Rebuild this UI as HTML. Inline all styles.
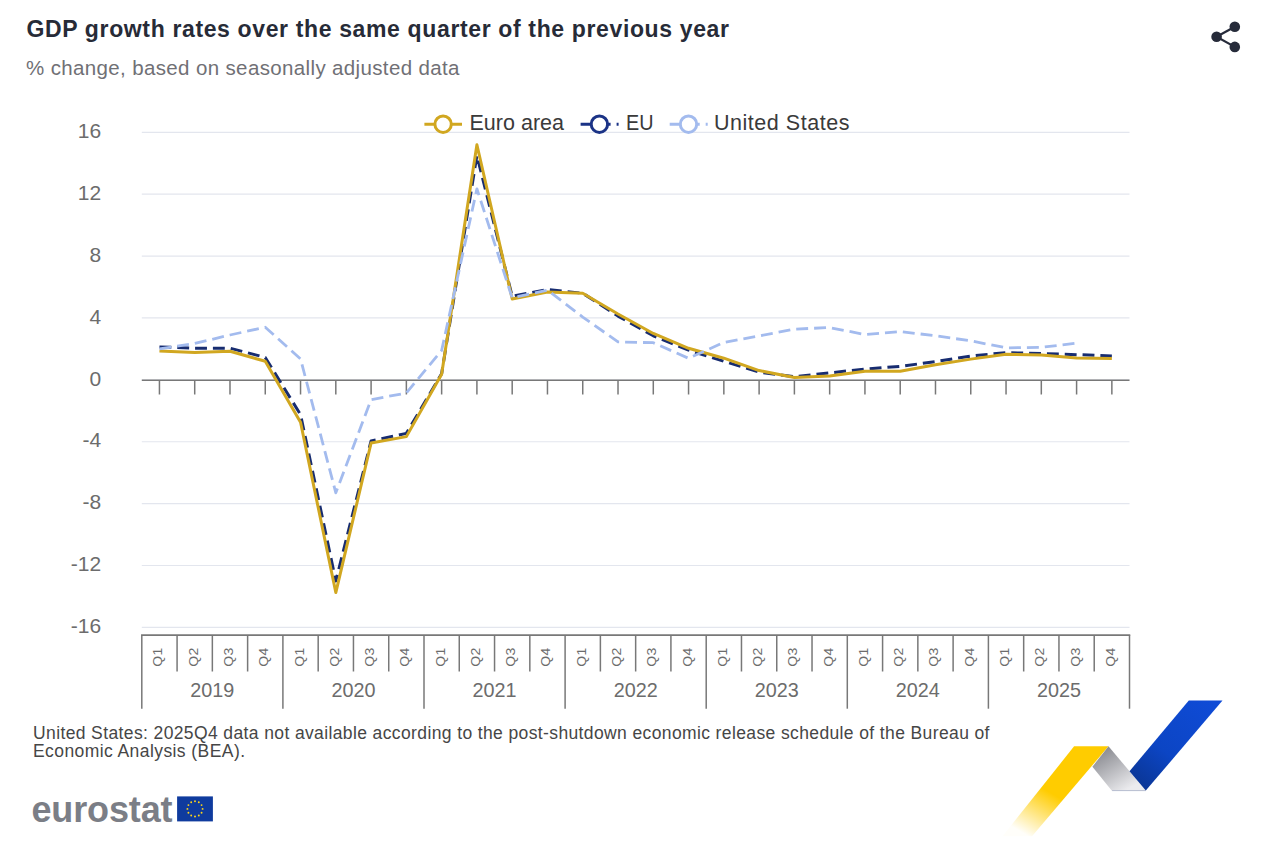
<!DOCTYPE html>
<html><head><meta charset="utf-8">
<style>
html,body{margin:0;padding:0;background:#fff;}
body{width:1279px;height:861px;position:relative;overflow:hidden;font-family:"Liberation Sans",sans-serif;}
svg{position:absolute;left:0;top:0;}
svg text{font-family:"Liberation Sans",sans-serif;}
</style></head><body>
<svg width="1279" height="861" viewBox="0 0 1279 861">
<line x1="141.8" y1="627.37" x2="1129.5" y2="627.37" stroke="#e3e6ee" stroke-width="1.2"/>
<line x1="141.8" y1="565.49" x2="1129.5" y2="565.49" stroke="#e3e6ee" stroke-width="1.2"/>
<line x1="141.8" y1="503.61" x2="1129.5" y2="503.61" stroke="#e3e6ee" stroke-width="1.2"/>
<line x1="141.8" y1="441.73" x2="1129.5" y2="441.73" stroke="#e3e6ee" stroke-width="1.2"/>
<line x1="141.8" y1="379.85" x2="1129.5" y2="379.85" stroke="#e3e6ee" stroke-width="1.2"/>
<line x1="141.8" y1="317.97" x2="1129.5" y2="317.97" stroke="#e3e6ee" stroke-width="1.2"/>
<line x1="141.8" y1="256.09" x2="1129.5" y2="256.09" stroke="#e3e6ee" stroke-width="1.2"/>
<line x1="141.8" y1="194.21" x2="1129.5" y2="194.21" stroke="#e3e6ee" stroke-width="1.2"/>
<line x1="141.8" y1="132.33" x2="1129.5" y2="132.33" stroke="#e3e6ee" stroke-width="1.2"/>
<text x="101.2" y="633.07" text-anchor="end" font-size="21" fill="#6c6c6c">-16</text>
<text x="101.2" y="571.19" text-anchor="end" font-size="21" fill="#6c6c6c">-12</text>
<text x="101.2" y="509.31" text-anchor="end" font-size="21" fill="#6c6c6c">-8</text>
<text x="101.2" y="447.43" text-anchor="end" font-size="21" fill="#6c6c6c">-4</text>
<text x="101.2" y="385.55" text-anchor="end" font-size="21" fill="#6c6c6c">0</text>
<text x="101.2" y="323.67" text-anchor="end" font-size="21" fill="#6c6c6c">4</text>
<text x="101.2" y="261.79" text-anchor="end" font-size="21" fill="#6c6c6c">8</text>
<text x="101.2" y="199.91" text-anchor="end" font-size="21" fill="#6c6c6c">12</text>
<text x="101.2" y="138.03" text-anchor="end" font-size="21" fill="#6c6c6c">16</text>
<line x1="141.8" y1="380.3" x2="1129.5" y2="380.3" stroke="#787878" stroke-width="1.6"/>
<line x1="159.44" y1="380.3" x2="159.44" y2="394.5" stroke="#787878" stroke-width="1.5"/>
<line x1="194.71" y1="380.3" x2="194.71" y2="394.5" stroke="#787878" stroke-width="1.5"/>
<line x1="229.99" y1="380.3" x2="229.99" y2="394.5" stroke="#787878" stroke-width="1.5"/>
<line x1="265.26" y1="380.3" x2="265.26" y2="394.5" stroke="#787878" stroke-width="1.5"/>
<line x1="300.54" y1="380.3" x2="300.54" y2="394.5" stroke="#787878" stroke-width="1.5"/>
<line x1="335.81" y1="380.3" x2="335.81" y2="394.5" stroke="#787878" stroke-width="1.5"/>
<line x1="371.09" y1="380.3" x2="371.09" y2="394.5" stroke="#787878" stroke-width="1.5"/>
<line x1="406.36" y1="380.3" x2="406.36" y2="394.5" stroke="#787878" stroke-width="1.5"/>
<line x1="441.64" y1="380.3" x2="441.64" y2="394.5" stroke="#787878" stroke-width="1.5"/>
<line x1="476.91" y1="380.3" x2="476.91" y2="394.5" stroke="#787878" stroke-width="1.5"/>
<line x1="512.19" y1="380.3" x2="512.19" y2="394.5" stroke="#787878" stroke-width="1.5"/>
<line x1="547.46" y1="380.3" x2="547.46" y2="394.5" stroke="#787878" stroke-width="1.5"/>
<line x1="582.74" y1="380.3" x2="582.74" y2="394.5" stroke="#787878" stroke-width="1.5"/>
<line x1="618.01" y1="380.3" x2="618.01" y2="394.5" stroke="#787878" stroke-width="1.5"/>
<line x1="653.29" y1="380.3" x2="653.29" y2="394.5" stroke="#787878" stroke-width="1.5"/>
<line x1="688.56" y1="380.3" x2="688.56" y2="394.5" stroke="#787878" stroke-width="1.5"/>
<line x1="723.84" y1="380.3" x2="723.84" y2="394.5" stroke="#787878" stroke-width="1.5"/>
<line x1="759.11" y1="380.3" x2="759.11" y2="394.5" stroke="#787878" stroke-width="1.5"/>
<line x1="794.39" y1="380.3" x2="794.39" y2="394.5" stroke="#787878" stroke-width="1.5"/>
<line x1="829.66" y1="380.3" x2="829.66" y2="394.5" stroke="#787878" stroke-width="1.5"/>
<line x1="864.94" y1="380.3" x2="864.94" y2="394.5" stroke="#787878" stroke-width="1.5"/>
<line x1="900.21" y1="380.3" x2="900.21" y2="394.5" stroke="#787878" stroke-width="1.5"/>
<line x1="935.49" y1="380.3" x2="935.49" y2="394.5" stroke="#787878" stroke-width="1.5"/>
<line x1="970.76" y1="380.3" x2="970.76" y2="394.5" stroke="#787878" stroke-width="1.5"/>
<line x1="1006.04" y1="380.3" x2="1006.04" y2="394.5" stroke="#787878" stroke-width="1.5"/>
<line x1="1041.31" y1="380.3" x2="1041.31" y2="394.5" stroke="#787878" stroke-width="1.5"/>
<line x1="1076.59" y1="380.3" x2="1076.59" y2="394.5" stroke="#787878" stroke-width="1.5"/>
<line x1="1111.86" y1="380.3" x2="1111.86" y2="394.5" stroke="#787878" stroke-width="1.5"/>
<line x1="141.05" y1="635.2" x2="1130.25" y2="635.2" stroke="#787878" stroke-width="1.7"/>
<line x1="141.80" y1="635.2" x2="141.80" y2="708.7" stroke="#787878" stroke-width="1.5"/>
<line x1="177.08" y1="635.2" x2="177.08" y2="671.5" stroke="#787878" stroke-width="1.5"/>
<line x1="212.35" y1="635.2" x2="212.35" y2="671.5" stroke="#787878" stroke-width="1.5"/>
<line x1="247.62" y1="635.2" x2="247.62" y2="671.5" stroke="#787878" stroke-width="1.5"/>
<line x1="282.90" y1="635.2" x2="282.90" y2="708.7" stroke="#787878" stroke-width="1.5"/>
<line x1="318.18" y1="635.2" x2="318.18" y2="671.5" stroke="#787878" stroke-width="1.5"/>
<line x1="353.45" y1="635.2" x2="353.45" y2="671.5" stroke="#787878" stroke-width="1.5"/>
<line x1="388.73" y1="635.2" x2="388.73" y2="671.5" stroke="#787878" stroke-width="1.5"/>
<line x1="424.00" y1="635.2" x2="424.00" y2="708.7" stroke="#787878" stroke-width="1.5"/>
<line x1="459.27" y1="635.2" x2="459.27" y2="671.5" stroke="#787878" stroke-width="1.5"/>
<line x1="494.55" y1="635.2" x2="494.55" y2="671.5" stroke="#787878" stroke-width="1.5"/>
<line x1="529.83" y1="635.2" x2="529.83" y2="671.5" stroke="#787878" stroke-width="1.5"/>
<line x1="565.10" y1="635.2" x2="565.10" y2="708.7" stroke="#787878" stroke-width="1.5"/>
<line x1="600.38" y1="635.2" x2="600.38" y2="671.5" stroke="#787878" stroke-width="1.5"/>
<line x1="635.65" y1="635.2" x2="635.65" y2="671.5" stroke="#787878" stroke-width="1.5"/>
<line x1="670.92" y1="635.2" x2="670.92" y2="671.5" stroke="#787878" stroke-width="1.5"/>
<line x1="706.20" y1="635.2" x2="706.20" y2="708.7" stroke="#787878" stroke-width="1.5"/>
<line x1="741.47" y1="635.2" x2="741.47" y2="671.5" stroke="#787878" stroke-width="1.5"/>
<line x1="776.75" y1="635.2" x2="776.75" y2="671.5" stroke="#787878" stroke-width="1.5"/>
<line x1="812.03" y1="635.2" x2="812.03" y2="671.5" stroke="#787878" stroke-width="1.5"/>
<line x1="847.30" y1="635.2" x2="847.30" y2="708.7" stroke="#787878" stroke-width="1.5"/>
<line x1="882.58" y1="635.2" x2="882.58" y2="671.5" stroke="#787878" stroke-width="1.5"/>
<line x1="917.85" y1="635.2" x2="917.85" y2="671.5" stroke="#787878" stroke-width="1.5"/>
<line x1="953.12" y1="635.2" x2="953.12" y2="671.5" stroke="#787878" stroke-width="1.5"/>
<line x1="988.40" y1="635.2" x2="988.40" y2="708.7" stroke="#787878" stroke-width="1.5"/>
<line x1="1023.67" y1="635.2" x2="1023.67" y2="671.5" stroke="#787878" stroke-width="1.5"/>
<line x1="1058.95" y1="635.2" x2="1058.95" y2="671.5" stroke="#787878" stroke-width="1.5"/>
<line x1="1094.22" y1="635.2" x2="1094.22" y2="671.5" stroke="#787878" stroke-width="1.5"/>
<line x1="1129.50" y1="635.2" x2="1129.50" y2="708.7" stroke="#787878" stroke-width="1.5"/>
<text transform="translate(162.44,657.0) rotate(-90) scale(1,0.87)" text-anchor="middle" font-size="14" fill="#6c6c6c" letter-spacing="0.3">Q1</text>
<text transform="translate(197.71,657.0) rotate(-90) scale(1,0.87)" text-anchor="middle" font-size="14" fill="#6c6c6c" letter-spacing="0.3">Q2</text>
<text transform="translate(232.99,657.0) rotate(-90) scale(1,0.87)" text-anchor="middle" font-size="14" fill="#6c6c6c" letter-spacing="0.3">Q3</text>
<text transform="translate(268.26,657.0) rotate(-90) scale(1,0.87)" text-anchor="middle" font-size="14" fill="#6c6c6c" letter-spacing="0.3">Q4</text>
<text transform="translate(303.54,657.0) rotate(-90) scale(1,0.87)" text-anchor="middle" font-size="14" fill="#6c6c6c" letter-spacing="0.3">Q1</text>
<text transform="translate(338.81,657.0) rotate(-90) scale(1,0.87)" text-anchor="middle" font-size="14" fill="#6c6c6c" letter-spacing="0.3">Q2</text>
<text transform="translate(374.09,657.0) rotate(-90) scale(1,0.87)" text-anchor="middle" font-size="14" fill="#6c6c6c" letter-spacing="0.3">Q3</text>
<text transform="translate(409.36,657.0) rotate(-90) scale(1,0.87)" text-anchor="middle" font-size="14" fill="#6c6c6c" letter-spacing="0.3">Q4</text>
<text transform="translate(444.64,657.0) rotate(-90) scale(1,0.87)" text-anchor="middle" font-size="14" fill="#6c6c6c" letter-spacing="0.3">Q1</text>
<text transform="translate(479.91,657.0) rotate(-90) scale(1,0.87)" text-anchor="middle" font-size="14" fill="#6c6c6c" letter-spacing="0.3">Q2</text>
<text transform="translate(515.19,657.0) rotate(-90) scale(1,0.87)" text-anchor="middle" font-size="14" fill="#6c6c6c" letter-spacing="0.3">Q3</text>
<text transform="translate(550.46,657.0) rotate(-90) scale(1,0.87)" text-anchor="middle" font-size="14" fill="#6c6c6c" letter-spacing="0.3">Q4</text>
<text transform="translate(585.74,657.0) rotate(-90) scale(1,0.87)" text-anchor="middle" font-size="14" fill="#6c6c6c" letter-spacing="0.3">Q1</text>
<text transform="translate(621.01,657.0) rotate(-90) scale(1,0.87)" text-anchor="middle" font-size="14" fill="#6c6c6c" letter-spacing="0.3">Q2</text>
<text transform="translate(656.29,657.0) rotate(-90) scale(1,0.87)" text-anchor="middle" font-size="14" fill="#6c6c6c" letter-spacing="0.3">Q3</text>
<text transform="translate(691.56,657.0) rotate(-90) scale(1,0.87)" text-anchor="middle" font-size="14" fill="#6c6c6c" letter-spacing="0.3">Q4</text>
<text transform="translate(726.84,657.0) rotate(-90) scale(1,0.87)" text-anchor="middle" font-size="14" fill="#6c6c6c" letter-spacing="0.3">Q1</text>
<text transform="translate(762.11,657.0) rotate(-90) scale(1,0.87)" text-anchor="middle" font-size="14" fill="#6c6c6c" letter-spacing="0.3">Q2</text>
<text transform="translate(797.39,657.0) rotate(-90) scale(1,0.87)" text-anchor="middle" font-size="14" fill="#6c6c6c" letter-spacing="0.3">Q3</text>
<text transform="translate(832.66,657.0) rotate(-90) scale(1,0.87)" text-anchor="middle" font-size="14" fill="#6c6c6c" letter-spacing="0.3">Q4</text>
<text transform="translate(867.94,657.0) rotate(-90) scale(1,0.87)" text-anchor="middle" font-size="14" fill="#6c6c6c" letter-spacing="0.3">Q1</text>
<text transform="translate(903.21,657.0) rotate(-90) scale(1,0.87)" text-anchor="middle" font-size="14" fill="#6c6c6c" letter-spacing="0.3">Q2</text>
<text transform="translate(938.49,657.0) rotate(-90) scale(1,0.87)" text-anchor="middle" font-size="14" fill="#6c6c6c" letter-spacing="0.3">Q3</text>
<text transform="translate(973.76,657.0) rotate(-90) scale(1,0.87)" text-anchor="middle" font-size="14" fill="#6c6c6c" letter-spacing="0.3">Q4</text>
<text transform="translate(1009.04,657.0) rotate(-90) scale(1,0.87)" text-anchor="middle" font-size="14" fill="#6c6c6c" letter-spacing="0.3">Q1</text>
<text transform="translate(1044.31,657.0) rotate(-90) scale(1,0.87)" text-anchor="middle" font-size="14" fill="#6c6c6c" letter-spacing="0.3">Q2</text>
<text transform="translate(1079.59,657.0) rotate(-90) scale(1,0.87)" text-anchor="middle" font-size="14" fill="#6c6c6c" letter-spacing="0.3">Q3</text>
<text transform="translate(1114.86,657.0) rotate(-90) scale(1,0.87)" text-anchor="middle" font-size="14" fill="#6c6c6c" letter-spacing="0.3">Q4</text>
<text x="212.35" y="697.4" text-anchor="middle" font-size="19.8" fill="#6c6c6c" letter-spacing="0">2019</text>
<text x="353.45" y="697.4" text-anchor="middle" font-size="19.8" fill="#6c6c6c" letter-spacing="0">2020</text>
<text x="494.55" y="697.4" text-anchor="middle" font-size="19.8" fill="#6c6c6c" letter-spacing="0">2021</text>
<text x="635.65" y="697.4" text-anchor="middle" font-size="19.8" fill="#6c6c6c" letter-spacing="0">2022</text>
<text x="776.75" y="697.4" text-anchor="middle" font-size="19.8" fill="#6c6c6c" letter-spacing="0">2023</text>
<text x="917.85" y="697.4" text-anchor="middle" font-size="19.8" fill="#6c6c6c" letter-spacing="0">2024</text>
<text x="1058.95" y="697.4" text-anchor="middle" font-size="19.8" fill="#6c6c6c" letter-spacing="0">2025</text>
<path d="M159.44,346.90 L194.71,348.14 L229.99,348.14 L265.26,357.42 L300.54,414.66 L335.81,580.96 L371.09,440.96 L406.36,433.38 L441.64,373.66 L476.91,155.54 L512.19,296.31 L547.46,289.51 L582.74,293.22 L618.01,316.11 L653.29,335.76 L688.56,350.15 L723.84,361.29 L759.11,372.12 L794.39,376.76 L829.66,372.89 L864.94,369.02 L900.21,366.39 L935.49,361.60 L970.76,356.03 L1006.04,352.62 L1041.31,353.55 L1076.59,354.63 L1111.86,356.03" fill="none" stroke="#172c70" stroke-width="3" stroke-dasharray="11.887,5.943" stroke-linejoin="round"/>
<path d="M159.44,351.08 L194.71,352.62 L229.99,351.23 L265.26,361.29 L300.54,422.24 L335.81,592.56 L371.09,442.97 L406.36,436.62 L441.64,374.28 L476.91,144.71 L512.19,298.94 L547.46,291.98 L582.74,293.22 L618.01,313.95 L653.29,333.44 L688.56,348.29 L723.84,358.19 L759.11,370.57 L794.39,377.53 L829.66,375.98 L864.94,371.19 L900.21,371.34 L935.49,364.69 L970.76,359.12 L1006.04,354.17 L1041.31,355.10 L1076.59,358.04 L1111.86,358.50" fill="none" stroke="#d1a720" stroke-width="3" stroke-linejoin="round"/>
<path d="M159.44,348.91 L194.71,343.50 L229.99,334.99 L265.26,327.25 L300.54,358.97 L335.81,492.78 L371.09,399.65 L406.36,393.00 L441.64,350.46 L476.91,188.80 L512.19,297.86 L547.46,290.12 L582.74,317.04 L618.01,341.95 L653.29,342.72 L688.56,358.35 L723.84,342.41 L759.11,335.92 L794.39,329.11 L829.66,327.56 L864.94,334.52 L900.21,331.58 L935.49,335.76 L970.76,340.87 L1006.04,347.83 L1041.31,347.36 L1076.59,343.19" fill="none" stroke="#a3bbee" stroke-width="2.8" stroke-dasharray="11.94,5.97" stroke-linejoin="round"/>
<line x1="424.4" y1="124.2" x2="462" y2="124.2" stroke="#d1a720" stroke-width="3"/>
<circle cx="443.1" cy="124.2" r="8.2" fill="#fff" stroke="#d1a720" stroke-width="3"/>
<text x="469.5" y="130.2" font-size="21.5" font-weight="normal" fill="#3a3a3a" textLength="94.5" lengthAdjust="spacing">Euro area</text>
<line x1="580.6" y1="124.2" x2="618.6" y2="124.2" stroke="#1b3386" stroke-width="3" stroke-dasharray="12,6"/>
<circle cx="599.4" cy="124.2" r="8.2" fill="#fff" stroke="#1b3386" stroke-width="3"/>
<text x="626.0" y="130.2" font-size="21.5" font-weight="normal" fill="#3a3a3a" textLength="27.5" lengthAdjust="spacingAndGlyphs">EU</text>
<line x1="669.7" y1="124.2" x2="707.7" y2="124.2" stroke="#a3bbee" stroke-width="3" stroke-dasharray="12,6"/>
<circle cx="688.5" cy="124.2" r="8.2" fill="#fff" stroke="#a3bbee" stroke-width="3"/>
<text x="714.0" y="130.2" font-size="21.5" font-weight="normal" fill="#3a3a3a" textLength="135.5" lengthAdjust="spacing">United States</text>
<text x="26.5" y="36.9" font-size="23" font-weight="bold" fill="#272b37" textLength="702.5" lengthAdjust="spacing">GDP growth rates over the same quarter of the previous year</text>
<text x="26.0" y="74.9" font-size="20.5" font-weight="normal" fill="#707075" textLength="433.5" lengthAdjust="spacing">% change, based on seasonally adjusted data</text>
<text x="33.0" y="739.4" font-size="17.5" font-weight="normal" fill="#464646" textLength="956.5" lengthAdjust="spacing">United States: 2025Q4 data not available according to the post-shutdown economic release schedule of the Bureau of</text>
<text x="33.0" y="757.2" font-size="17.5" font-weight="normal" fill="#464646" textLength="212.0" lengthAdjust="spacing">Economic Analysis (BEA).</text>
<defs>
<linearGradient id="gy" x1="1070" y1="780" x2="1035" y2="840" gradientUnits="userSpaceOnUse">
<stop offset="0" stop-color="#ffcc00"/><stop offset="0.3" stop-color="#ffcc00"/><stop offset="1" stop-color="#ffcc00" stop-opacity="0.02"/>
</linearGradient>
<linearGradient id="gg" x1="1100" y1="750" x2="1125" y2="791" gradientUnits="userSpaceOnUse">
<stop offset="0" stop-color="#88898f"/><stop offset="1" stop-color="#ebebee"/>
</linearGradient>
<linearGradient id="gb" x1="1210" y1="700" x2="1140" y2="790" gradientUnits="userSpaceOnUse">
<stop offset="0" stop-color="#0f4bd6"/><stop offset="0.6" stop-color="#0c45c4"/><stop offset="1" stop-color="#0a3592"/>
</linearGradient>
</defs>
<polygon points="1074.1,746.3 1108.5,746.3 1032,836.3 1002.5,836.3" fill="url(#gy)"/>
<polygon points="1108.5,746.3 1145.8,790.6 1112.1,791 1092.4,766.7" fill="url(#gg)"/>
<line x1="1112.1" y1="790.6" x2="1145.8" y2="790.6" stroke="#b7bdd0" stroke-width="1"/>
<polygon points="1188.8,700.6 1222.5,700.6 1145.8,790.6 1129.5,771.2" fill="url(#gb)"/>
<text x="31.5" y="821.8" font-size="36" font-weight="bold" fill="#7b7e86" textLength="141.0" lengthAdjust="spacing">eurostat</text>
<rect x="177.1" y="796.4" width="35.8" height="25" fill="#0f3b9e"/><g fill="#ffd617"><circle cx="195.00" cy="801.30" r="0.95"/><circle cx="198.80" cy="802.32" r="0.95"/><circle cx="201.58" cy="805.10" r="0.95"/><circle cx="202.60" cy="808.90" r="0.95"/><circle cx="201.58" cy="812.70" r="0.95"/><circle cx="198.80" cy="815.48" r="0.95"/><circle cx="195.00" cy="816.50" r="0.95"/><circle cx="191.20" cy="815.48" r="0.95"/><circle cx="188.42" cy="812.70" r="0.95"/><circle cx="187.40" cy="808.90" r="0.95"/><circle cx="188.42" cy="805.10" r="0.95"/><circle cx="191.20" cy="802.32" r="0.95"/></g>
<g fill="#262b3a" stroke="#262b3a">
<line x1="1216.6" y1="36.8" x2="1234.8" y2="26.7" stroke-width="2.2"/>
<line x1="1216.6" y1="36.8" x2="1234.8" y2="46.9" stroke-width="2.2"/>
<circle cx="1216.6" cy="36.8" r="5.3" stroke="none"/>
<circle cx="1234.8" cy="26.7" r="5.3" stroke="none"/>
<circle cx="1234.8" cy="46.9" r="5.3" stroke="none"/>
</g>
</svg>
</body></html>
